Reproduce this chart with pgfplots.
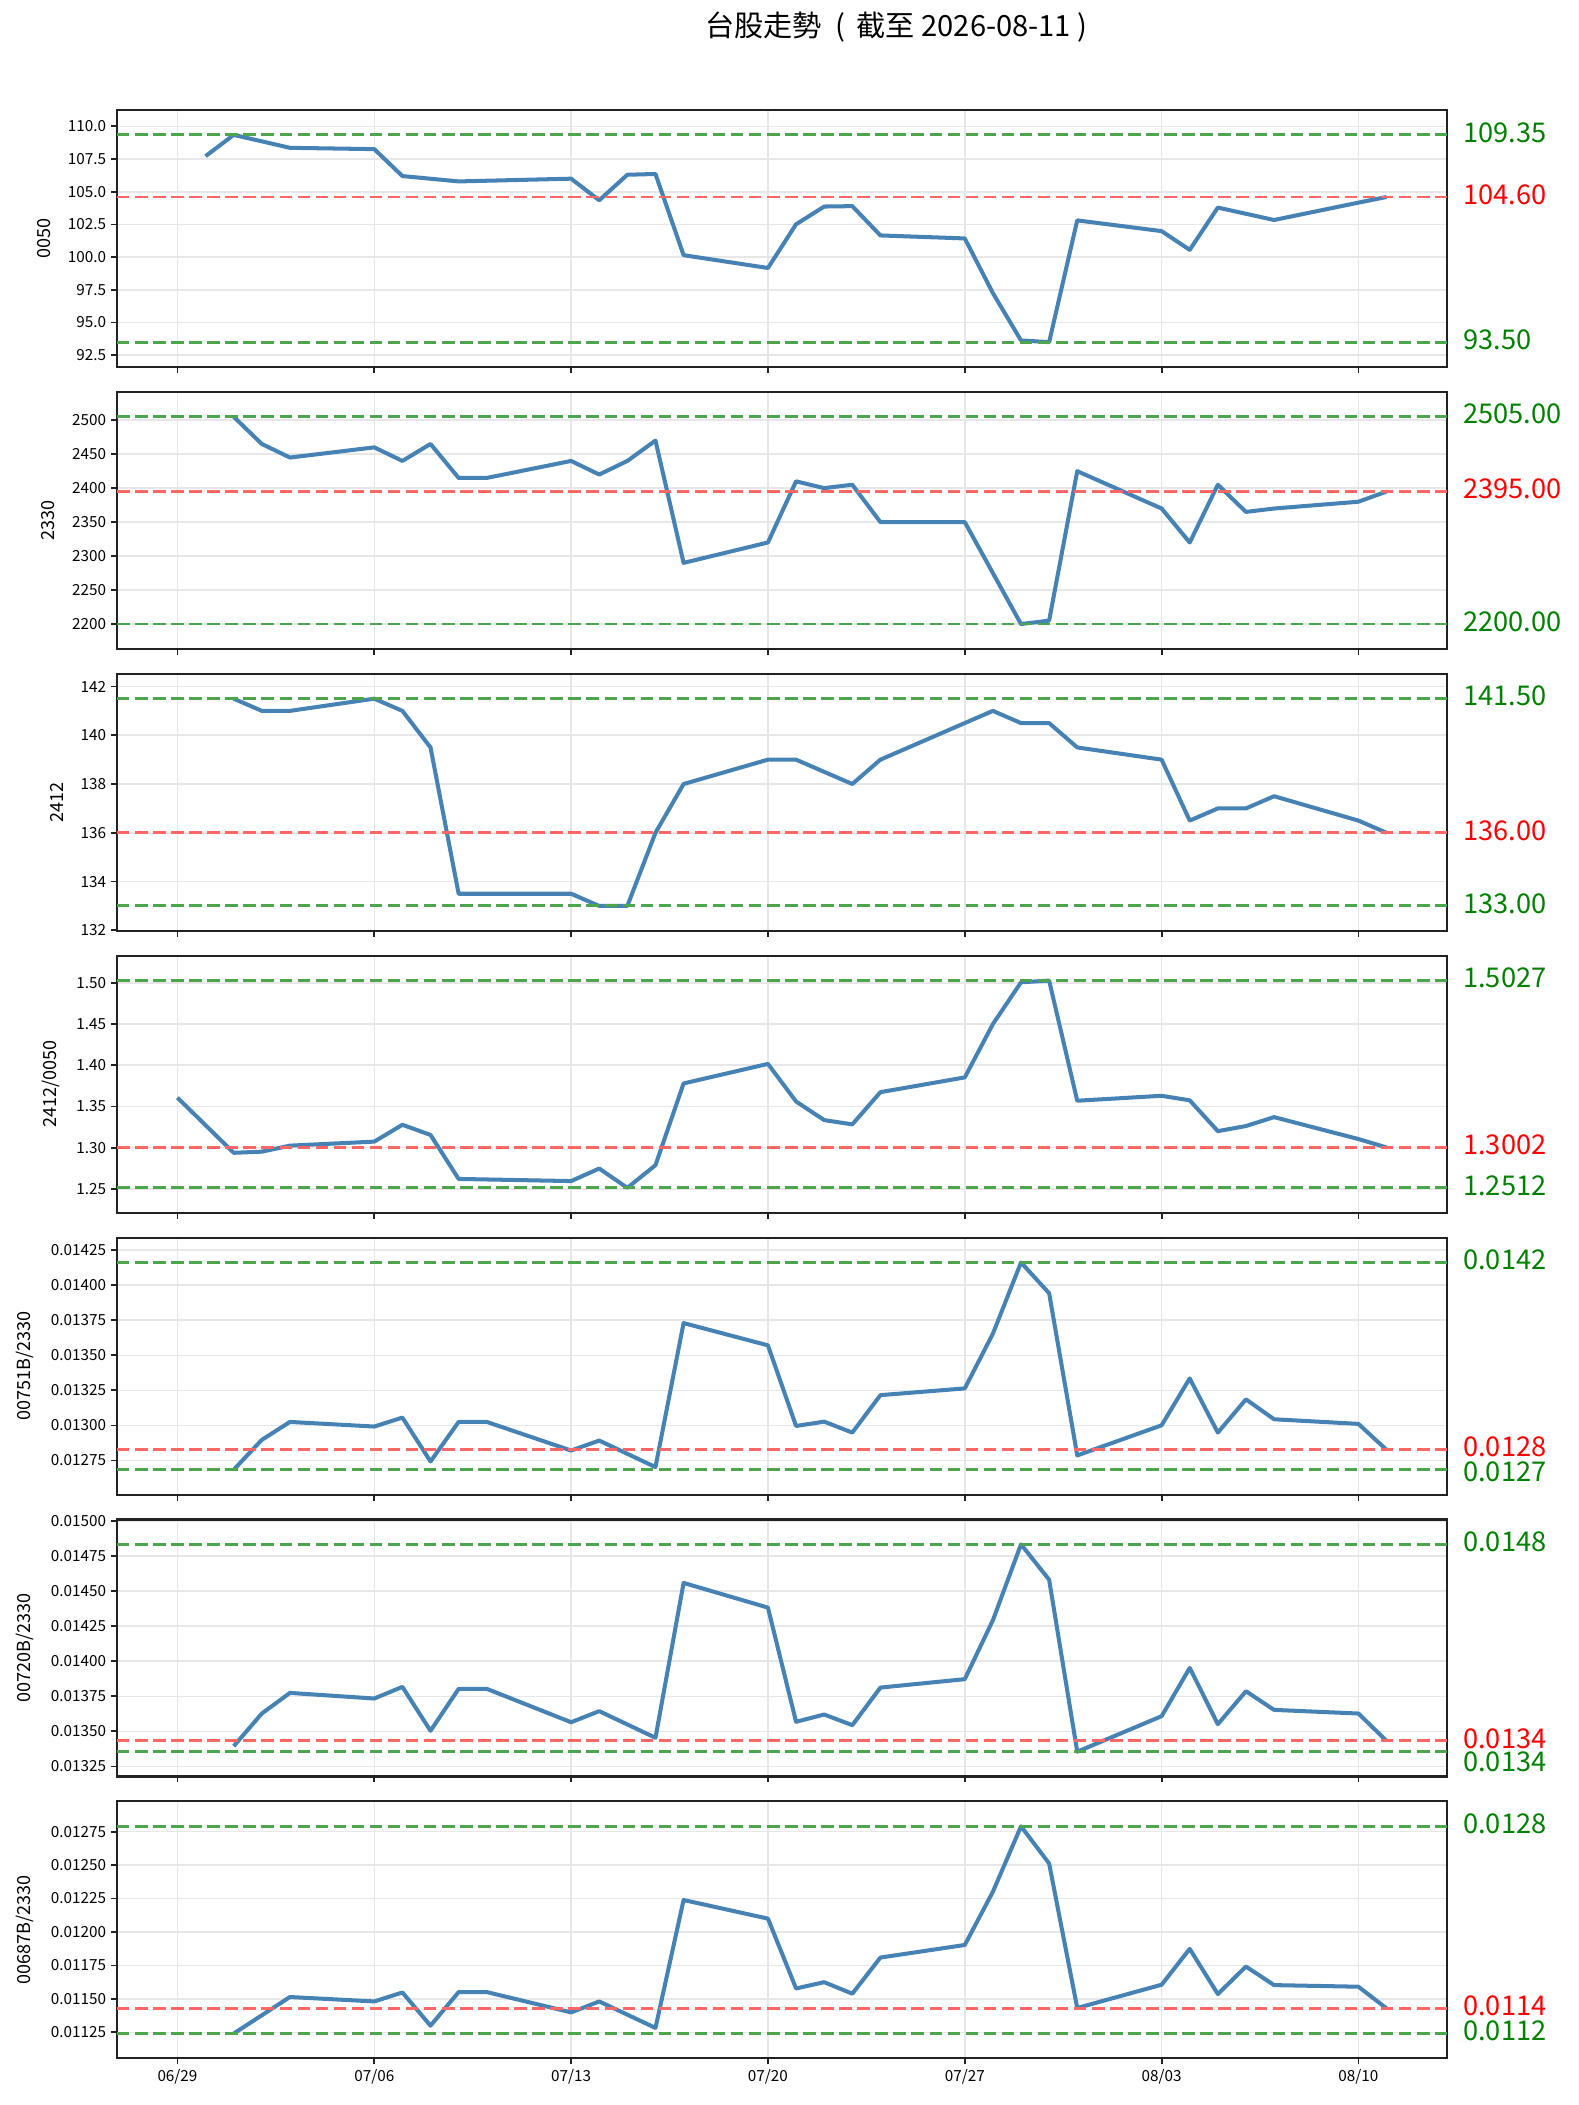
\documentclass[border=0pt]{standalone}
\usepackage{pgfplots}
\pgfplotsset{compat=1.18}
\usepackage{fontspec}
\setmainfont{Noto Sans CJK TC}
\definecolor{steel}{RGB}{70,130,180}
\definecolor{hlgreen}{RGB}{77,166,77}
\definecolor{hlred}{RGB}{255,102,102}
\definecolor{labgreen}{RGB}{0,128,0}
\definecolor{labred}{RGB}{255,0,0}
\definecolor{gridgray}{RGB}{231,231,231}
\definecolor{spine}{RGB}{34,34,34}
\tikzset{
  glab/.style={anchor=west, inner sep=0pt, xshift=11.5pt, yshift=1.8pt, text=labgreen, font=\fontsize{19.6}{23}\selectfont},
  rlab/.style={anchor=west, inner sep=0pt, xshift=11.5pt, yshift=1.8pt, text=labred, font=\fontsize{19.6}{23}\selectfont},
}
\pgfplotsset{
  panel/.style={
    width=957.6pt, height=185.04pt, scale only axis,
    anchor=north west,
    xmin=-2.15, xmax=45.15,
    xtick={0,7,14,21,28,35,42},
    xticklabels={},
    grid=major,
    major grid style={line width=1.1pt, color=gridgray},
    axis line style={line width=1.5pt, color=spine},
    every tick/.style={line width=1.3pt, color=spine},
    tick align=outside,
    major tick length=4.3pt,
    xtick pos=bottom, ytick pos=left,
    ticklabel style={font=\fontsize{11}{13}\selectfont, text=black},
    scaled y ticks=false,
    /pgf/number format/assume math mode=true,
    /pgf/number format/1000 sep={},
    ylabel style={font=\fontsize{13}{15}\selectfont},
    ylabel shift=5.5pt,
    clip=false,
  },
  dataline/.style={color=steel, line width=2.9pt, line join=round, no markers},
  gline/.style={color=hlgreen, line width=2.1pt, dash pattern=on 9pt off 4pt, no markers},
  rline/.style={color=hlred, line width=2.1pt, dash pattern=on 9pt off 4pt, no markers},
}
\begin{document}
\begin{tikzpicture}
\node[anchor=west, inner sep=0pt, font=\fontsize{21}{25}\selectfont] at (507.6pt,-19.4pt) {台股走勢\hspace{0.45em}(\hspace{0.4em}截至 2026-08-11\hspace{0.2em})};

% Panel 1: 0050
\begin{axis}[panel, at={(84.24pt,-79.2pt)},
  ymin=91.598, ymax=111.252,
  ytick={92.5,95,97.5,100,102.5,105,107.5,110},
  yticklabel style={/pgf/number format/.cd, fixed, fixed zerofill, precision=1},
  ylabel={0050}]
\addplot[dataline] coordinates {(1,107.72) (2,109.35) (4,108.36) (7,108.26) (8,106.2) (10,105.79) (14,106.0) (15,104.35) (16,106.3) (17,106.36) (18,100.15) (21,99.17) (22,102.51) (23,103.87) (24,103.9) (25,101.66) (28,101.43) (29,97.25) (30,93.63) (31,93.50) (32,102.81) (35,101.99) (36,100.56) (37,103.79) (39,102.84) (42,104.17) (43,104.60)};
\addplot[gline] coordinates {(-2.15,109.35) (45.15,109.35)};
\addplot[rline] coordinates {(-2.15,104.60) (45.15,104.60)};
\addplot[gline] coordinates {(-2.15,93.50) (45.15,93.50)};
\node[glab] at (axis cs:45.15,109.35) {109.35};
\node[rlab] at (axis cs:45.15,104.60) {104.60};
\node[glab] at (axis cs:45.15,93.50) {93.50};
\end{axis}

% Panel 2: 2330
\begin{axis}[panel, at={(84.24pt,-282.17pt)},
  ymin=2163.4, ymax=2541.6,
  ytick={2200,2250,2300,2350,2400,2450,2500},
  yticklabel style={/pgf/number format/.cd, fixed, precision=0},
  ylabel={2330}]
\addplot[dataline] coordinates {(2,2505) (3,2465) (4,2445) (7,2460) (8,2440) (9,2465) (10,2415) (11,2415) (14,2440) (15,2420) (16,2440) (17,2470) (18,2290) (21,2320) (22,2410) (23,2400) (24,2405) (25,2350) (28,2350) (29,2275) (30,2200) (31,2205) (32,2425) (35,2370) (36,2320) (37,2405) (38,2365) (39,2370) (42,2380) (43,2395)};
\addplot[gline] coordinates {(-2.15,2505) (45.15,2505)};
\addplot[rline] coordinates {(-2.15,2395) (45.15,2395)};
\addplot[gline] coordinates {(-2.15,2200) (45.15,2200)};
\node[glab] at (axis cs:45.15,2505) {2505.00};
\node[rlab] at (axis cs:45.15,2395) {2395.00};
\node[glab] at (axis cs:45.15,2200) {2200.00};
\end{axis}

% Panel 3: 2412
\begin{axis}[panel, at={(84.24pt,-485.14pt)},
  ymin=131.98, ymax=142.52,
  ytick={132,134,136,138,140,142},
  yticklabel style={/pgf/number format/.cd, fixed, precision=0},
  ylabel={2412}]
\addplot[dataline] coordinates {(2,141.5) (3,141) (4,141) (7,141.5) (8,141) (9,139.5) (10,133.5) (14,133.5) (15,133) (16,133) (17,136) (18,138) (21,139) (22,139) (24,138) (25,139) (29,141) (30,140.5) (31,140.5) (32,139.5) (35,139) (36,136.5) (37,137) (38,137) (39,137.5) (42,136.5) (43,136)};
\addplot[gline] coordinates {(-2.15,141.5) (45.15,141.5)};
\addplot[rline] coordinates {(-2.15,136) (45.15,136)};
\addplot[gline] coordinates {(-2.15,133) (45.15,133)};
\node[glab] at (axis cs:45.15,141.5) {141.50};
\node[rlab] at (axis cs:45.15,136) {136.00};
\node[glab] at (axis cs:45.15,133) {133.00};
\end{axis}

% Panel 4: 2412/0050
\begin{axis}[panel, at={(84.24pt,-688.10pt)},
  ymin=1.22102, ymax=1.53288,
  ytick={1.25,1.30,1.35,1.40,1.45,1.50},
  yticklabel style={/pgf/number format/.cd, fixed, fixed zerofill, precision=2},
  ylabel={2412/0050}]
\addplot[dataline] coordinates {(0,1.3606) (2,1.2937) (3,1.2951) (4,1.3024) (7,1.3073) (8,1.3277) (9,1.3154) (10,1.2620) (14,1.2594) (15,1.2746) (16,1.2512) (17,1.2787) (18,1.3779) (21,1.4016) (22,1.3560) (23,1.3334) (24,1.3282) (25,1.3673) (28,1.3852) (29,1.4499) (30,1.5006) (31,1.5027) (32,1.3569) (35,1.3629) (36,1.3574) (37,1.3200) (38,1.3262) (39,1.3370) (42,1.3104) (43,1.3002)};
\addplot[gline] coordinates {(-2.15,1.5027) (45.15,1.5027)};
\addplot[rline] coordinates {(-2.15,1.3002) (45.15,1.3002)};
\addplot[gline] coordinates {(-2.15,1.2512) (45.15,1.2512)};
\node[glab] at (axis cs:45.15,1.5027) {1.5027};
\node[rlab] at (axis cs:45.15,1.3002) {1.3002};
\node[glab] at (axis cs:45.15,1.2512) {1.2512};
\end{axis}

% Panel 5: 00751B/2330
\begin{axis}[panel, at={(84.24pt,-891.07pt)},
  ymin=0.0125066, ymax=0.0143394,
  ytick={0.01275,0.013,0.01325,0.0135,0.01375,0.014,0.01425},
  yticklabel style={/pgf/number format/.cd, fixed, fixed zerofill, precision=5},
  ylabel={00751B/2330}]
\addplot[dataline] coordinates {(2,0.012684) (3,0.012897) (4,0.013025) (7,0.012992) (8,0.013056) (9,0.012743) (10,0.013025) (11,0.013025) (14,0.012821) (15,0.012892) (17,0.012703) (18,0.013730) (21,0.013571) (22,0.012996) (23,0.013027) (24,0.012949) (25,0.013216) (28,0.013264) (29,0.013654) (30,0.014162) (31,0.013943) (32,0.012786) (35,0.013001) (36,0.013335) (37,0.012949) (38,0.013186) (39,0.013044) (42,0.013011) (43,0.012826)};
\addplot[gline] coordinates {(-2.15,0.014162) (45.15,0.014162)};
\addplot[rline] coordinates {(-2.15,0.012826) (45.15,0.012826)};
\addplot[gline] coordinates {(-2.15,0.012684) (45.15,0.012684)};
\node[glab] at (axis cs:45.15,0.014162) {0.0142};
\node[rlab, yshift=0.1pt] at (axis cs:45.15,0.012826) {0.0128};
\node[glab, yshift=-3.5pt] at (axis cs:45.15,0.012684) {0.0127};
\end{axis}

% Panel 6: 00720B/2330
\begin{axis}[panel, at={(84.24pt,-1094.04pt)},
  ymin=0.013178, ymax=0.015010,
  ytick={0.01325,0.0135,0.01375,0.014,0.01425,0.0145,0.01475,0.015},
  yticklabel style={/pgf/number format/.cd, fixed, fixed zerofill, precision=5},
  ylabel={00720B/2330}]
\addplot[dataline] coordinates {(2,0.013394) (3,0.013627) (4,0.013774) (7,0.013734) (8,0.013817) (9,0.013504) (10,0.013803) (11,0.013803) (14,0.013565) (15,0.013644) (17,0.013454) (18,0.014558) (21,0.014382) (22,0.013568) (23,0.013620) (24,0.013544) (25,0.013812) (28,0.013872) (29,0.014292) (30,0.014833) (31,0.014581) (32,0.013355) (35,0.013608) (36,0.013952) (37,0.013551) (38,0.013786) (39,0.013653) (42,0.013627) (43,0.013432)};
\addplot[gline] coordinates {(-2.15,0.014833) (45.15,0.014833)};
\addplot[rline] coordinates {(-2.15,0.013432) (45.15,0.013432)};
\addplot[gline] coordinates {(-2.15,0.013355) (45.15,0.013355)};
\node[glab] at (axis cs:45.15,0.014833) {0.0148};
\node[rlab, yshift=-0.4pt] at (axis cs:45.15,0.013432) {0.0134};
\node[glab, yshift=-9.2pt] at (axis cs:45.15,0.013355) {0.0134};
\end{axis}

% Panel 7: 00687B/2330
\begin{axis}[panel, at={(84.24pt,-1297.01pt)},
  ymin=0.0110551, ymax=0.0129759,
  ytick={0.01125,0.0115,0.01175,0.012,0.01225,0.0125,0.01275},
  yticklabel style={/pgf/number format/.cd, fixed, fixed zerofill, precision=5},
  xticklabels={06/29,07/06,07/13,07/20,07/27,08/03,08/10},
  ylabel={00687B/2330}]
\addplot[dataline] coordinates {(2,0.011241) (4,0.011514) (7,0.011481) (8,0.011548) (9,0.011300) (10,0.011551) (11,0.011551) (14,0.011399) (15,0.011481) (17,0.011283) (18,0.012239) (21,0.012100) (22,0.011578) (23,0.011625) (24,0.011539) (25,0.011809) (28,0.011903) (29,0.012301) (30,0.012790) (31,0.012512) (32,0.011432) (35,0.011606) (36,0.011874) (37,0.011536) (38,0.011742) (39,0.011603) (42,0.011591) (43,0.011429)};
\addplot[gline] coordinates {(-2.15,0.012790) (45.15,0.012790)};
\addplot[rline] coordinates {(-2.15,0.011429) (45.15,0.011429)};
\addplot[gline] coordinates {(-2.15,0.011241) (45.15,0.011241)};
\node[glab] at (axis cs:45.15,0.012790) {0.0128};
\node[rlab] at (axis cs:45.15,0.011429) {0.0114};
\node[glab] at (axis cs:45.15,0.011241) {0.0112};
\end{axis}

\pgfresetboundingbox
\path[use as bounding box] (0pt,0pt) rectangle (1136.88pt,-1515.6pt);
\end{tikzpicture}
\end{document}
